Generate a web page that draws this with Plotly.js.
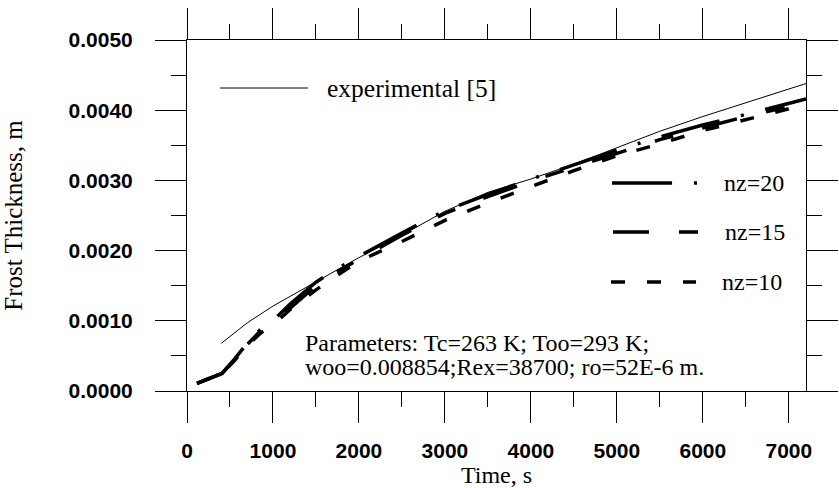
<!DOCTYPE html>
<html>
<head>
<meta charset="utf-8">
<script src="https://cdn.plot.ly/plotly-3.0.1.min.js"></script>
<style>html,body{margin:0;padding:0;background:#fff;}</style>
</head>
<body>
<div id="chart" style="width:839px;height:488px;"></div>
<script>
// ---- data ----
const expTime = [400, 700, 1000, 1500, 2000, 2500, 3000, 3500, 4000, 4500, 5000, 5500, 6000, 6500, 7200];
const expThick = [0.00068, 0.00097, 0.00121, 0.00156, 0.00190, 0.00222, 0.00256, 0.00283, 0.00302, 0.00323, 0.00346, 0.00370, 0.00391, 0.00411, 0.00438];

const simTime = [116, 407, 550, 700, 850, 1000, 1200, 1500, 1700, 2000, 2500, 3000, 3500, 4000, 4500, 5000, 5500, 6000, 6500, 7000, 7200];
const nz20 = [0.00011, 0.00025, 0.00045, 0.00068, 0.00087, 0.00100, 0.00124, 0.00155, 0.00171, 0.00192, 0.00225, 0.00257, 0.00280, 0.00302, 0.00322, 0.00343, 0.00362, 0.00379, 0.00394, 0.00409, 0.00416];
const nz15 = [0.00011, 0.00025, 0.00044, 0.00066, 0.00085, 0.00098, 0.00118, 0.00150, 0.00167, 0.00188, 0.00222, 0.00253, 0.00277, 0.00299, 0.00319, 0.00339, 0.00358, 0.00375, 0.00391, 0.00405, 0.00412];
const nz10 = [0.00011, 0.00025, 0.00043, 0.00064, 0.00082, 0.00094, 0.00116, 0.00144, 0.00161, 0.00185, 0.00213, 0.00243, 0.00268, 0.00291, 0.00314, 0.00335, 0.00352, 0.00371, 0.00386, 0.00402, 0.00410];

const seriesNames = ['nz=20', 'nz=15', 'nz=10'];
const expName = 'experimental [5]';
const xTitle = 'Time, s';
const yTitle = 'Frost Thickness, m';
const paramLine1 = 'Parameters: Tc=263 K; Too=293 K;';
const paramLine2 = 'woo=0.008854;Rex=38700; ro=52E-6 m.';

// ---- styles ----
const dash20 = '60px,22px,3px,22px';
const dash15 = '36px,30px,19px,30px';
const dash10 = '14px,22px';
const serif = 'Liberation Serif, Times New Roman, serif';
const sans = 'Liberation Sans, Arial, sans-serif';

const traces = [
  {x: simTime, y: nz10, name: seriesNames[2], mode: 'lines', line: {color: '#000', width: 3.5, dash: dash10}},
  {x: simTime, y: nz15, name: seriesNames[1], mode: 'lines', line: {color: '#000', width: 3.5, dash: dash15}},
  {x: simTime, y: nz20, name: seriesNames[0], mode: 'lines', line: {color: '#000', width: 3.5, dash: dash20}},
  {x: expTime, y: expThick, name: expName, mode: 'lines', line: {color: '#000', width: 1}}
];

function legLine(x0, x1, y, w, dash) {
  return {type: 'line', xref: 'x', yref: 'y', x0: x0, x1: x1, y0: y, y1: y,
          line: {color: '#000', width: w, dash: dash}};
}
function txt(x, y, t, size) {
  return {xref: 'x', yref: 'y', x: x, y: y, text: t, showarrow: false,
          xanchor: 'left', yanchor: 'middle', font: {family: serif, size: size || 24, color: '#000'}};
}

const axisCommon = {
  showgrid: false, zeroline: false, showline: true, linecolor: '#000', linewidth: 1,
  ticks: 'outside', ticklen: 31, tickwidth: 1, tickcolor: '#000', mirror: 'ticks',
  tickfont: {family: sans, size: 21, color: '#000', weight: 'bold'}
};

const layout = {
  width: 839, height: 488,
  margin: {l: 187, r: 33, t: 40, b: 97, pad: 0},
  paper_bgcolor: '#fff', plot_bgcolor: '#fff',
  showlegend: false,
  xaxis: Object.assign({}, axisCommon, {
    range: [0, 7200], dtick: 1000, tick0: 0, ticklabelstandoff: 10,
    minor: {dtick: 500, ticklen: 15, tickwidth: 1, tickcolor: '#000', ticks: 'outside'},
    title: {text: xTitle, font: {family: serif, size: 24, color: '#000'}, standoff: 0}
  }),
  yaxis: Object.assign({}, axisCommon, {
    range: [0, 0.005], dtick: 0.001, tick0: 0, tickformat: '.4f', ticklabelstandoff: 18,
    minor: {dtick: 0.0005, ticklen: 15, tickwidth: 1, tickcolor: '#000', ticks: 'outside'},
    title: {text: yTitle, font: {family: serif, size: 25, color: '#000'}, standoff: 40}
  }),
  shapes: [
    legLine(384, 1407, 0.004316, 1, 'solid'),
    legLine(4944, 5932, 0.002963, 3.5, dash20),
    legLine(4955, 5944, 0.002265, 3.5, dash15),
    legLine(4932, 5921, 0.001553, 3.5, dash10)
  ],
  annotations: [
    txt(1610, 0.004316, expName, 25.5),
    txt(6220, 0.002963, seriesNames[0]),
    txt(6230, 0.002265, seriesNames[1]),
    txt(6205, 0.001553, seriesNames[2]),
    txt(1350, 0.000684, paramLine1),
    txt(1350, 0.000342, paramLine2)
  ]
};

Plotly.newPlot('chart', traces, layout, {staticPlot: true, displayModeBar: false});
</script>
</body>
</html>
